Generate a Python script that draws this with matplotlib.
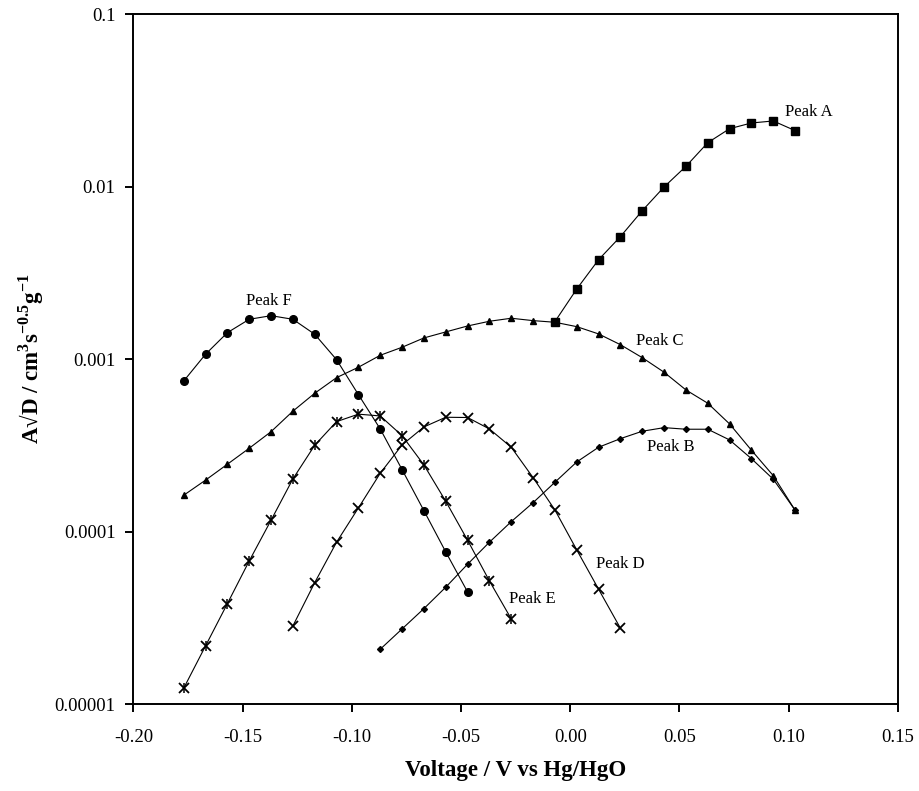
import numpy as np
from matplotlib import pyplot as plt

plt.rcParams['font.family'] = ['Liberation Serif', 'DejaVu Serif']
plt.rcParams['mathtext.fontset'] = 'custom'
plt.rcParams['mathtext.bf'] = 'Liberation Serif:bold'
plt.rcParams['mathtext.rm'] = 'Liberation Serif'

# voltages run in 0.01 V steps
volts_a = [-0.007, 0.003, 0.013, 0.023, 0.033, 0.043, 0.053, 0.063, 0.073, 0.083, 0.093, 0.103]
peak_a = [0.00165, 0.00255, 0.00377, 0.00513, 0.00725, 0.00995, 0.0131, 0.01796, 0.02165, 0.02336, 0.0240, 0.0211]

volts_b = [-0.087, -0.077, -0.067, -0.057, -0.047, -0.037, -0.027, -0.017, -0.007, 0.003,
           0.013, 0.023, 0.033, 0.043, 0.053, 0.063, 0.073, 0.083, 0.093, 0.103]
peak_b = [2.085e-5, 2.734e-5, 3.585e-5, 4.770e-5, 6.482e-5, 8.695e-5, 1.144e-4, 1.474e-4, 1.935e-4, 2.537e-4,
          3.087e-4, 3.463e-4, 3.822e-4, 4.010e-4, 3.926e-4, 3.926e-4, 3.403e-4, 2.651e-4, 2.015e-4, 1.332e-4]

volts_c = [-0.177, -0.167, -0.157, -0.147, -0.137, -0.127, -0.117, -0.107, -0.097, -0.087,
           -0.077, -0.067, -0.057, -0.047, -0.037, -0.027, -0.017, -0.007, 0.003, 0.013,
           0.023, 0.033, 0.043, 0.053, 0.063, 0.073, 0.083, 0.093, 0.103]
peak_c = [1.627e-4, 1.991e-4, 2.461e-4, 3.046e-4, 3.80e-4, 4.996e-4, 6.345e-4, 7.815e-4, 8.977e-4, 1.053e-3,
          1.172e-3, 1.327e-3, 1.438e-3, 1.557e-3, 1.658e-3, 1.726e-3, 1.672e-3, 1.636e-3, 1.543e-3, 1.400e-3,
          1.213e-3, 1.020e-3, 8.397e-4, 6.632e-4, 5.553e-4, 4.213e-4, 2.967e-4, 2.113e-4, 1.332e-4]

volts_d = [-0.127, -0.117, -0.107, -0.097, -0.087, -0.077, -0.067, -0.057, -0.047, -0.037,
           -0.027, -0.017, -0.007, 0.003, 0.013, 0.023]
peak_d = [2.846e-5, 5.072e-5, 8.695e-5, 1.374e-4, 2.182e-4, 3.184e-4, 4.047e-4, 4.606e-4, 4.59e-4, 3.94e-4,
          3.087e-4, 2.058e-4, 1.337e-4, 7.846e-5, 4.644e-5, 2.760e-5]

volts_e = [-0.177, -0.167, -0.157, -0.147, -0.137, -0.127, -0.117, -0.107, -0.097, -0.087,
           -0.077, -0.067, -0.057, -0.047, -0.037, -0.027]
peak_e = [1.240e-5, 2.180e-5, 3.832e-5, 6.772e-5, 1.166e-4, 2.023e-4, 3.171e-4, 4.345e-4, 4.80e-4, 4.687e-4,
          3.604e-4, 2.438e-4, 1.502e-4, 8.929e-5, 5.187e-5, 3.125e-5]

volts_f = [-0.177, -0.167, -0.157, -0.147, -0.137, -0.127, -0.117, -0.107, -0.097, -0.087,
           -0.077, -0.067, -0.057, -0.047]
peak_f = [7.47e-4, 1.068e-3, 1.424e-3, 1.702e-3, 1.786e-3, 1.702e-3, 1.394e-3, 9.93e-4, 6.23e-4, 3.94e-4,
          2.29e-4, 1.325e-4, 7.64e-5, 4.48e-5]

peak_labels = ['Peak A', 'Peak B', 'Peak C', 'Peak D', 'Peak E', 'Peak F']
label_x = [0.0985, 0.0351, 0.0302, 0.0119, -0.028, -0.1486]
label_y = [0.027, 3.11e-4, 1.28e-3, 6.48e-5, 4.06e-5, 2.18e-3]

x_ticks = [-0.20, -0.15, -0.10, -0.05, 0.00, 0.05, 0.10, 0.15]
y_ticks = [0.00001, 0.0001, 0.001, 0.01, 0.1]
y_tick_labels = ['0.00001', '0.0001', '0.001', '0.01', '0.1']

fig = plt.figure(figsize=(9.2, 7.91), dpi=100)
ax = fig.add_axes([0.1451, 0.1096, 0.8307, 0.8727])

lw = 0.8
ax.plot(volts_c, peak_c, color='black', lw=lw, marker='^', ms=4)
ax.plot(volts_b, peak_b, color='black', lw=lw, marker='D', ms=3)
ax.plot(volts_a, peak_a, color='black', lw=lw, marker='s', ms=5.5)
ax.plot(volts_f, peak_f, color='black', lw=lw, marker='o', ms=5.5)
ax.plot(volts_d, peak_d, color='black', lw=lw, marker='x', ms=7, mew=1.3)
ax.plot(volts_e, peak_e, color='black', lw=lw, marker='x', ms=7, mew=1.3)
ax.plot(volts_e, peak_e, color='black', lw=0, marker='|', ms=7, mew=1.1)

for txt, lx, ly in zip(peak_labels, label_x, label_y):
    ax.text(lx, ly, txt, fontsize=12, ha='left', va='center')

ax.set_yscale('log')
ax.set_xlim(-0.20, 0.15)
ax.set_ylim(0.00001, 0.1)
ax.set_xticks(x_ticks)
ax.set_xticklabels([f'{t:.2f}' for t in x_ticks])
ax.set_yticks(y_ticks)
ax.set_yticklabels(y_tick_labels)
ax.yaxis.set_minor_locator(plt.NullLocator())
ax.tick_params(direction='out', length=6, width=1.4, labelsize=13.5, pad=7,
               top=False, right=False)
ax.tick_params(axis='x', pad=12)
for s in ax.spines.values():
    s.set_linewidth(1.4)

ax.set_xlabel('Voltage / V vs Hg/HgO', fontsize=16.5, fontweight='bold', labelpad=10)
ax.set_ylabel(r'A√D / cm$^{\mathbf{3}}$s$^{\mathbf{-0.5}}$g$^{\mathbf{-1}}$',
              fontsize=16.5, fontweight='bold', labelpad=6)

fig.savefig('out.png', dpi=100)
